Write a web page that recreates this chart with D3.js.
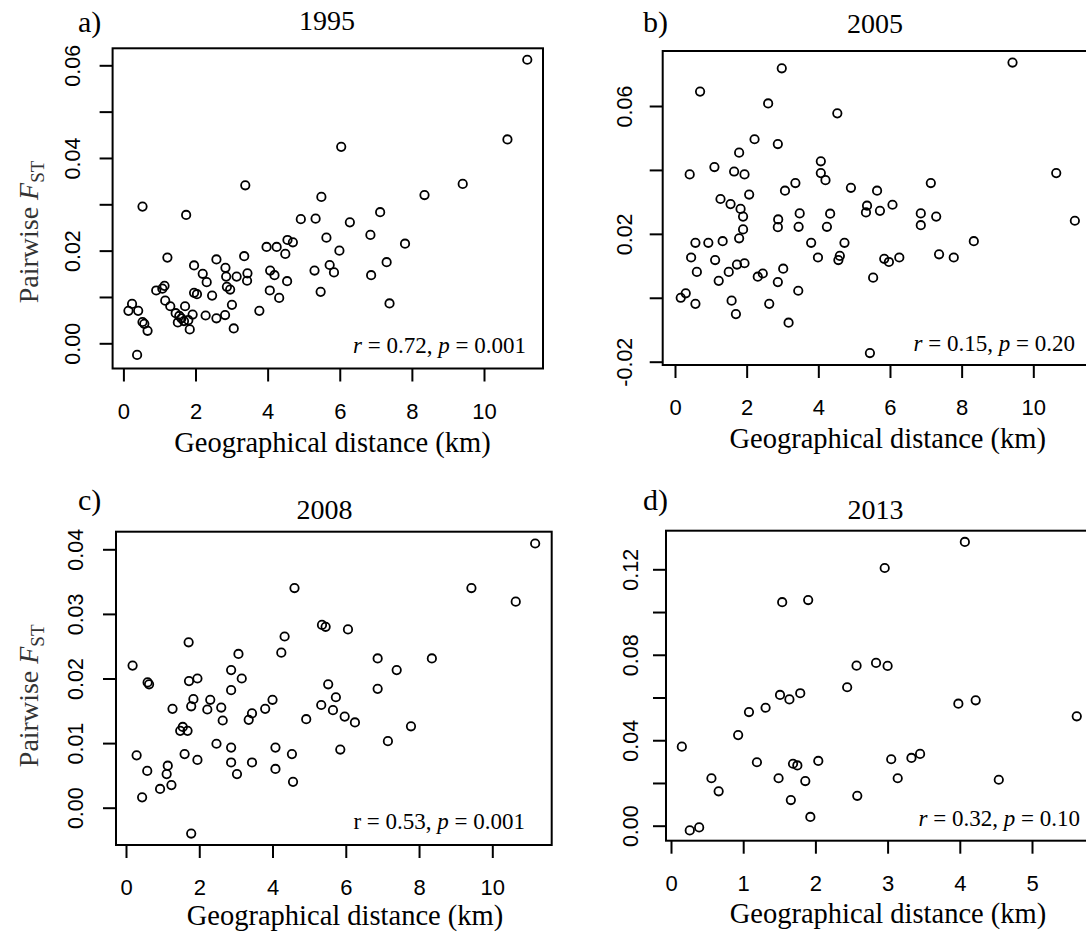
<!DOCTYPE html>
<html><head><meta charset="utf-8">
<script src="https://cdn.jsdelivr.net/npm/d3@7"></script>
<style>body{margin:0;background:#fff}</style>
</head><body>
<svg id="chart" width="1086" height="934"></svg>
<script>
// ---------- DATA ----------
const dist1995 = [11.2,10.65,6.04,3.38,9.41,8.35,5.49,0.53,1.74,7.12,4.92,5.33,6.28,6.85,5.63,4.55,4.70,7.81,3.97,4.25,5.99,4.49,1.22,3.35,2.58,7.30,1.96,2.83,5.72,4.07,5.30,5.84,2.20,3.44,4.19,3.14,2.85,6.87,2.31,3.43,4.54,1.14,2.87,2.96,0.91,1.08,4.06,1.96,2.04,5.47,2.46,4.32,1.16,7.38,1.30,1.71,3.01,0.24,0.14,0.41,3.77,1.45,1.55,1.92,2.28,2.82,2.58,0.53,0.58,0.67,1.51,1.68,1.80,1.84,3.06,0.38,1.61];
const fst1995  = [0.0612,0.0440,0.0424,0.0341,0.0344,0.0320,0.0316,0.0295,0.0277,0.0283,0.0268,0.0269,0.0261,0.0234,0.0228,0.0223,0.0218,0.0215,0.0208,0.0208,0.0200,0.0193,0.0185,0.0188,0.0181,0.0175,0.0168,0.0163,0.0169,0.0157,0.0157,0.0153,0.0150,0.0151,0.0147,0.0144,0.0144,0.0147,0.0132,0.0135,0.0134,0.0124,0.0122,0.0116,0.0114,0.0118,0.0114,0.0109,0.0106,0.0111,0.0103,0.0098,0.0092,0.0086,0.0080,0.0080,0.0083,0.0085,0.0070,0.0070,0.0070,0.0065,0.0059,0.0062,0.0060,0.0061,0.0054,0.0046,0.0042,0.0027,0.0045,0.0048,0.0050,0.0030,0.0032,-0.0025,0.0054];

const dist2005 = [9.42,2.98,0.70,2.60,4.53,2.22,2.87,1.79,4.07,1.10,1.65,1.94,0.41,4.07,4.20,10.64,3.36,7.14,3.07,4.91,5.64,2.07,1.27,1.55,5.36,6.07,1.83,5.33,5.72,3.48,4.33,6.86,7.29,1.90,2.88,2.87,3.45,4.24,6.86,11.16,1.90,1.79,0.57,0.93,1.33,3.80,4.73,8.34,0.45,1.12,3.99,4.60,4.56,5.84,5.97,6.26,7.37,7.78,1.73,1.94,0.61,1.50,3.02,2.31,2.45,1.22,2.87,5.53,3.44,0.16,0.30,0.57,1.58,2.63,1.70,3.17,5.44];
const fst2005  = [0.0736,0.0718,0.0645,0.0608,0.0577,0.0496,0.0481,0.0454,0.0427,0.0409,0.0395,0.0386,0.0386,0.0390,0.0368,0.0390,0.0359,0.0359,0.0335,0.0344,0.0335,0.0323,0.0309,0.0293,0.0288,0.0291,0.0278,0.0267,0.0272,0.0264,0.0263,0.0264,0.0254,0.0254,0.0245,0.0221,0.0222,0.0222,0.0227,0.0241,0.0214,0.0186,0.0172,0.0172,0.0177,0.0172,0.0172,0.0177,0.0126,0.0118,0.0126,0.0131,0.0118,0.0122,0.0112,0.0126,0.0136,0.0126,0.0104,0.0108,0.0081,0.0081,0.0091,0.0066,0.0076,0.0053,0.0049,0.0063,0.0022,0.0000,0.0014,-0.0019,-0.0009,-0.0019,-0.0051,-0.0078,-0.0173];

const dist2008 = [11.17,4.60,9.43,10.64,5.35,5.45,6.06,4.33,1.71,3.07,4.24,6.87,8.35,0.18,2.87,7.39,1.95,3.16,1.72,0.59,0.63,5.52,2.87,6.87,1.84,2.30,4.00,5.73,1.78,5.33,1.27,2.22,2.60,3.44,3.80,5.65,2.64,3.35,4.92,5.97,6.25,1.55,1.48,1.68,7.78,7.15,2.47,2.87,4.08,5.85,0.29,1.60,4.53,1.95,2.87,3.44,1.14,0.58,4.08,1.11,3.03,0.93,1.24,4.56,0.44,1.78];
const fst2008  = [0.0409,0.0340,0.0340,0.0319,0.0283,0.0280,0.0276,0.0265,0.0256,0.0238,0.0240,0.0231,0.0231,0.0220,0.0213,0.0213,0.0200,0.0200,0.0196,0.0194,0.0191,0.0191,0.0182,0.0184,0.0168,0.0167,0.0167,0.0171,0.0157,0.0159,0.0153,0.0152,0.0155,0.0146,0.0153,0.0151,0.0135,0.0136,0.0137,0.0141,0.0132,0.0125,0.0119,0.0119,0.0126,0.0103,0.0099,0.0093,0.0093,0.0090,0.0081,0.0083,0.0083,0.0074,0.0070,0.0070,0.0065,0.0057,0.0060,0.0052,0.0052,0.0029,0.0035,0.0040,0.0016,-0.0040];

const dist2013 = [4.07,2.96,1.90,1.54,2.84,2.57,3.00,2.44,1.79,1.51,1.64,4.22,3.98,1.31,1.08,5.62,0.93,0.15,3.45,3.33,3.05,2.04,1.19,1.69,1.75,0.56,1.49,3.14,4.54,1.86,0.66,2.58,1.66,1.93,0.39,0.26];
const fst2013  = [0.1328,0.1206,0.1056,0.1046,0.0762,0.0749,0.0748,0.0648,0.0620,0.0612,0.0591,0.0587,0.0571,0.0552,0.0532,0.0512,0.0424,0.0370,0.0336,0.0317,0.0311,0.0303,0.0297,0.0290,0.0282,0.0222,0.0222,0.0222,0.0215,0.0209,0.0161,0.0140,0.0120,0.0041,-0.0008,-0.0022];

const xTicks12 = [0,2,4,6,8,10];
const xTickLabels12 = ["0","2","4","6","8","10"];
const xTicks6 = [0,1,2,3,4,5];
const xTickLabels6 = ["0","1","2","3","4","5"];
const yTicks1995 = [0,0.01,0.02,0.03,0.04,0.05,0.06];
const yTickLabels1995 = ["0.00","","0.02","","0.04","","0.06"];
const yTicks2005 = [-0.02,0,0.02,0.04,0.06];
const yTickLabels2005 = ["-0.02","","0.02","","0.06"];
const yTicks2008 = [0,0.01,0.02,0.03,0.04];
const yTickLabels2008 = ["0.00","0.01","0.02","0.03","0.04"];
const yTicks2013 = [0,0.02,0.04,0.06,0.08,0.10,0.12];
const yTickLabels2013 = ["0.00","","0.04","","0.08","","0.12"];

const panelLetters = ["a)","b)","c)","d)"];
const years = ["1995","2005","2008","2013"];
const rTexts = [["r"," = 0.72, ","p"," = 0.001"],["r"," = 0.15, ","p"," = 0.20"],["r = 0.53, ","","p"," = 0.001"],["r"," = 0.32, ","p"," = 0.10"]];
const xTitle = "Geographical distance (km)";

// ---------- LAYOUT ----------
const panels = [
  {xs:dist1995, ys:fst1995, xd:[0,10], xr:[123.4,484], yd:[0,0.06], yr:[343.3,65.3], box:[112.6,48.3,543,368.5],
   xt:xTicks12, xl:xTickLabels12, yt:yTicks1995, yl:yTickLabels1995, ylOff:33,
   letter:[78,32], title:[327,30], rt:[526,353], xtitle:[332.5,451.7], ytitle:[38,232]},
  {xs:dist2005, ys:fst2005, xd:[0,10], xr:[675,1033.3], yd:[-0.02,0.06], yr:[361.7,106], box:[662.7,51,1094,365],
   xt:xTicks12, xl:xTickLabels12, yt:yTicks2005, yl:yTickLabels2005, ylOff:31,
   letter:[643,32], title:[875,33], rt:[1075,350.7], xtitle:[887.7,448]},
  {xs:dist2008, ys:fst2008, xd:[0,10], xr:[126,492.3], yd:[0,0.04], yr:[807.7,549.3], box:[116,531.7,551.7,845],
   xt:xTicks12, xl:xTickLabels12, yt:yTicks2008, yl:yTickLabels2008, ylOff:33,
   letter:[78,510], title:[324.4,519], rt:[525,829], xtitle:[345,925], ytitle:[38,695.8]},
  {xs:dist2013, ys:fst2013, xd:[0,5], xr:[671,1032], yd:[0,0.12], yr:[825.7,569.3], box:[666,530.7,1106,840.7],
   xt:xTicks6, xl:xTickLabels6, yt:yTicks2013, yl:yTickLabels2013, ylOff:28,
   letter:[643,510], title:[875.4,519], rt:[1080,826], xtitle:[888,923]}
];

const svg = d3.select("#chart");
svg.append("rect").attr("width",1086).attr("height",934).attr("fill","#fff");
const SERIF = "'Liberation Serif','Times New Roman',serif";
const SANS = "'Liberation Sans',Arial,sans-serif";

panels.forEach((p,pi)=>{
  const g = svg.append("g");
  const x = d3.scaleLinear().domain(p.xd).range(p.xr);
  const y = d3.scaleLinear().domain(p.yd).range(p.yr);

  g.append("g").selectAll("circle").data(d3.zip(p.xs,p.ys)).join("circle")
    .attr("cx",d=>x(d[0])).attr("cy",d=>y(d[1])).attr("r",4.2)
    .attr("fill","none").attr("stroke","#000").attr("stroke-width",1.8);

  g.append("rect").attr("x",p.box[0]).attr("y",p.box[1])
    .attr("width",p.box[2]-p.box[0]).attr("height",p.box[3]-p.box[1])
    .attr("fill","none").attr("stroke","#000").attr("stroke-width",2);

  const gx = g.append("g").attr("transform",`translate(0,${p.box[3]})`)
    .call(d3.axisBottom(x).tickValues(p.xt).tickFormat(d=>p.xl[p.xt.indexOf(d)]).tickSize(13).tickSizeOuter(0));
  gx.select(".domain").remove();
  gx.attr("font-size",22).attr("font-family",SANS);
  gx.selectAll(".tick line").attr("stroke","#000").attr("stroke-width",2);
  gx.selectAll(".tick text").attr("y",50).attr("dy",null).attr("fill","#000");

  const gy = g.append("g").attr("transform",`translate(${p.box[0]},0)`)
    .call(d3.axisLeft(y).tickValues(p.yt).tickFormat(d=>p.yl[p.yt.indexOf(d)]).tickSize(13).tickSizeOuter(0));
  gy.select(".domain").remove();
  gy.attr("font-size",21.5).attr("font-family",SANS);
  gy.selectAll(".tick line").attr("stroke","#000").attr("stroke-width",2);
  gy.selectAll(".tick text").attr("transform","rotate(-90)").attr("x",0).attr("y",-p.ylOff)
    .attr("dy",null).attr("text-anchor","middle").attr("fill","#000");

  g.append("text").attr("x",p.letter[0]).attr("y",p.letter[1]).attr("font-family",SERIF)
    .attr("font-size",30).text(panelLetters[pi]);
  g.append("text").attr("x",p.title[0]).attr("y",p.title[1]).attr("font-family",SERIF)
    .attr("font-size",28).attr("text-anchor","middle").text(years[pi]);

  const rt = g.append("text").attr("x",p.rt[0]).attr("y",p.rt[1]).attr("font-family",SERIF)
    .attr("font-size",23).attr("text-anchor","end");
  const parts = rTexts[pi];
  if (parts[0] === "r") rt.append("tspan").attr("font-style","italic").text("r");
  else rt.append("tspan").text(parts[0]);
  rt.append("tspan").text(parts[1]);
  rt.append("tspan").attr("font-style","italic").text(parts[2]);
  rt.append("tspan").text(parts[3]);

  g.append("text").attr("x",p.xtitle[0]).attr("y",p.xtitle[1]).attr("font-family",SERIF)
    .attr("font-size",28.5).attr("text-anchor","middle").text(xTitle);

  if (p.ytitle) {
    const yt = g.append("text").attr("transform",`translate(${p.ytitle[0]},${p.ytitle[1]}) rotate(-90)`)
      .attr("font-family",SERIF).attr("font-size",28).attr("text-anchor","middle").attr("fill","#333");
    yt.append("tspan").text("Pairwise ");
    yt.append("tspan").attr("font-style","italic").text("F");
    yt.append("tspan").attr("font-size",19).attr("dy",6).text("ST");
  }
});
</script>
</body></html>
